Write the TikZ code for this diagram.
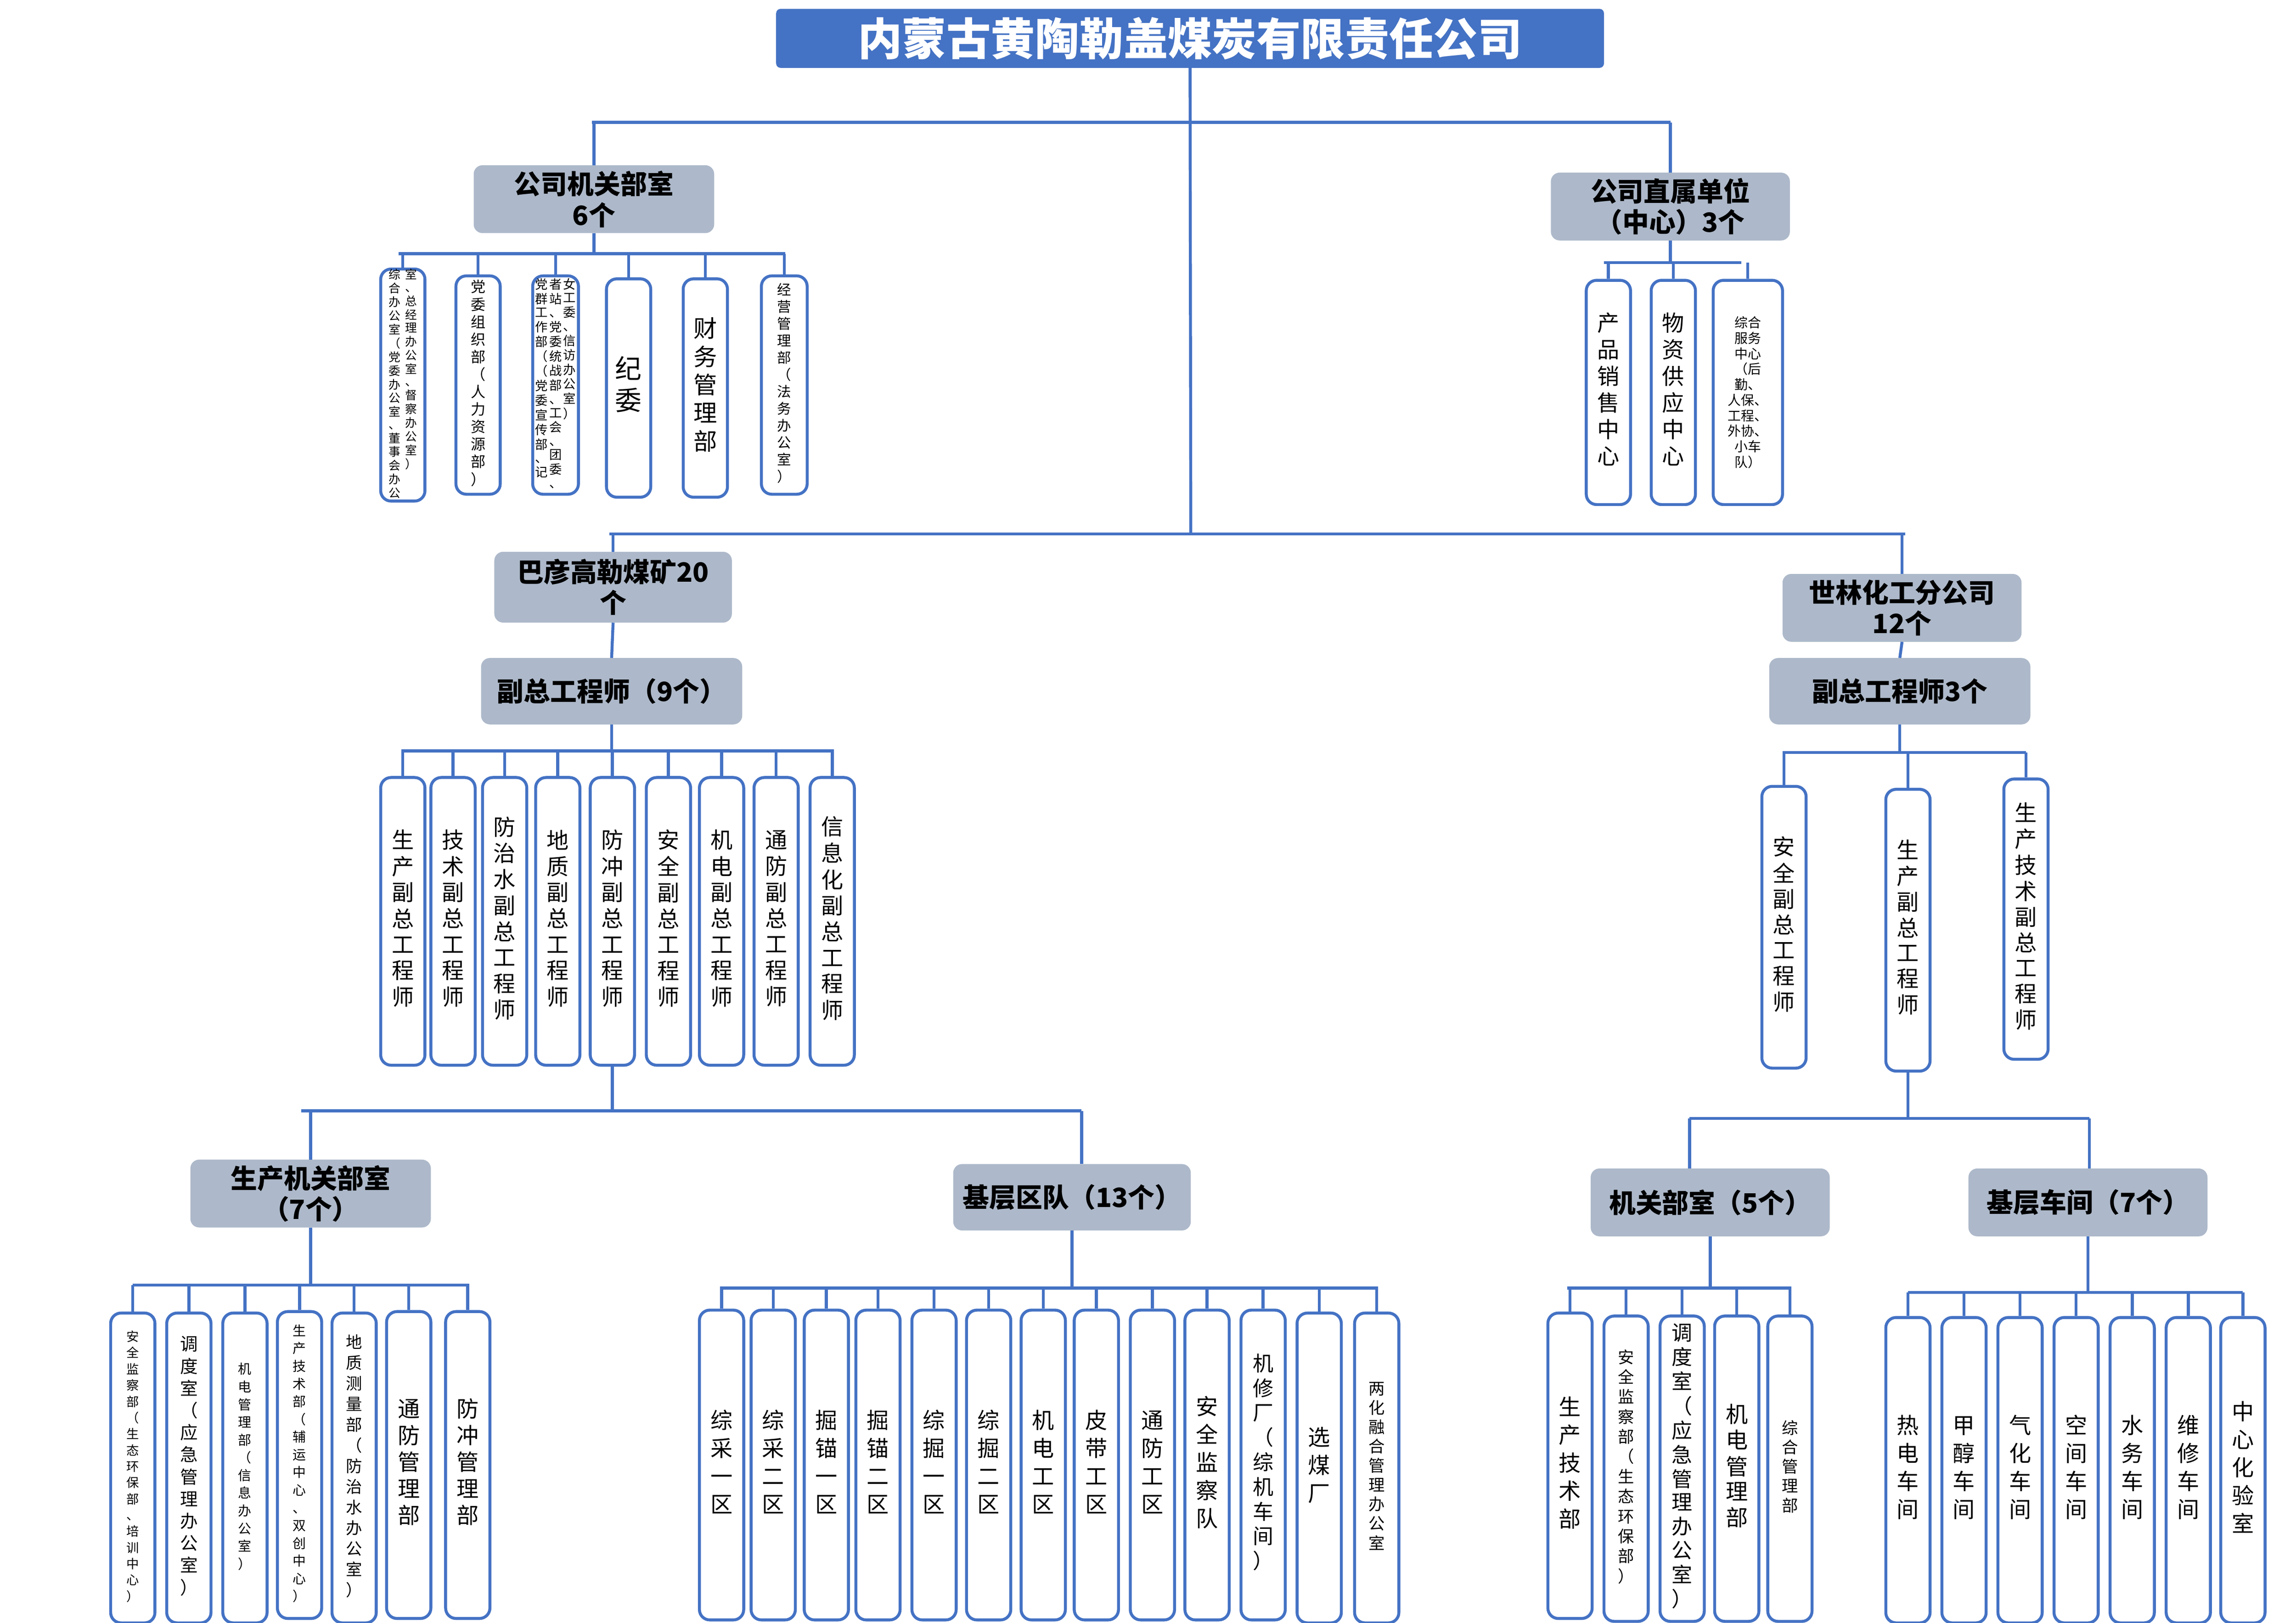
\documentclass[tikz,border=0pt]{standalone}
\usepackage{fontspec}
\setmainfont{Noto Sans CJK SC}
\definecolor{bl}{HTML}{4472C4}
\definecolor{gr}{HTML}{ADB9CA}
\makeatletter
\def\vt#1{\vt@b#1\vt@end}
\def\vt@b#1{#1\vt@a}
\def\vt@a#1{\ifx#1\vt@end\else\\#1\expandafter\vt@a\fi}
\makeatother
\newcommand\vc[1]{\begin{tabular}[t]{@{}c@{}}\vt{#1}\end{tabular}}
\newcommand\vx[1]{\expandafter\vc\expandafter{#1}}
\tikzset{
 leafbox/.style={draw=bl,line width=2mm,rounded corners=7mm,fill=white,inner sep=0pt,align=center},
 conn/.style={draw=bl,line width=2mm},
 hbox/.style={fill=gr,rounded corners=6mm,inner sep=0pt,align=center,font=\fontsize{18mm}{21mm}\selectfont\bfseries},
}
\newcommand\lf[8]{\node[leafbox,minimum width={(#3-#2)*1mm},minimum height={(#5-#4)*1mm},font=\fontsize{#6mm}{#7mm}\selectfont] (#1) at ({(#2+#3)/2},{(#4+#5)/2}) {#8};}
\newcommand\hb[7]{\node[hbox,minimum width={(#3-#2)*1mm},minimum height={(#5-#4)*1mm}] (#1) at ({(#2+#3)/2},{(#4+#5)/2}) {#6};}
\newcommand\bus[4]{\coordinate (#1bus) at (#2,#4);\draw[conn] (#2,#4) -- (#3,#4);\draw[conn] (#1.south) -- (#1.south |- #1bus);}
\newcommand\drop[2]{\foreach \n in {#2}{\draw[conn] (\n.north) -- (\n.north |- #1bus);}}
\begin{document}
\begin{tikzpicture}[x=1mm,y=-1mm]
\useasboundingbox (0,0) rectangle (1556,1100);
% title
\node[fill=bl,rounded corners=3mm,minimum width=561mm,minimum height=40mm,inner sep=0pt,text=white,font=\fontsize{30mm}{32mm}\selectfont\bfseries] (T) at (806.5,26) {内蒙古黄陶勒盖煤炭有限责任公司};
\coordinate (H1) at (807,83);
\coordinate (H2) at (807,362);
\draw[conn] (T.south) -- (H2);
\draw[conn] (401,83) -- (1132,83);
\draw[conn] (413,362) -- (1291,362);
% level 1 headers
\hb{A}{321}{484}{112}{158}{公司机关部室\\6个}{}
\hb{B}{1051}{1213}{117}{163}{公司直属单位\\（中心）3个}{}
\draw[conn] (A.north) -- (A.north |- H1);
\draw[conn] (B.north) -- (B.north |- H1);
% A leaves
\bus{A}{270}{532}{172}
\lf{a1}{258}{288}{187}{335}{8}{8.6}{\vc{综合办公室（党委办公室、董事会办公}\hspace{3mm}\vc{室、总经理办公室、督察办公室）}}
\lf{a2}{309}{339}{187}{335}{10}{11.5}{\vc{党委组织部（人力资源部）}}
\lf{a3}{361}{392}{187}{335}{8.5}{9.2}{\vc{党群工作部（（党委宣传部、记}\hspace{1mm}\vc{者站、党委统战部、工会、团委、}\hspace{1mm}\vc{女工委、信访办公室）}}
\lf{a4}{411}{441}{189}{337}{18}{21}{\vc{纪委}}
\lf{a5}{463}{493}{189}{337}{16}{19}{\vc{财务管理部}}
\lf{a6}{516}{547}{187}{335}{9.5}{11.5}{\vc{经营管理部（法务办公室）}}
\drop{A}{a1,a2,a3,a4,a5,a6}
% B leaves
\bus{B}{1087}{1180}{178}
\lf{b1}{1075}{1105}{190}{342}{15}{18}{\vc{产品销售中心}}
\lf{b2}{1119}{1149}{190}{342}{15}{18}{\vc{物资供应中心}}
\lf{b3}{1161}{1208}{190}{342}{9}{10.5}{综合\\服务\\中心\\（后\\勤、\\人保、\\工程、\\外协、\\小车\\队）}
\drop{B}{b1,b2,b3}
% level 2
\hb{C}{335}{496}{374}{422}{巴彦高勒煤矿20\\个}{}
\hb{D}{1208}{1370}{389}{435}{世林化工分公司\\12个}{}
\draw[conn] (C.north) -- (C.north |- H2);
\draw[conn] (D.north) -- (D.north |- H2);
\hb{C2}{326}{503}{446}{491}{副总工程师（9个）}{}
\hb{D2}{1199}{1376}{446}{491}{副总工程师3个}{}
\draw[conn] (C.south) -- (C2.north);
\draw[conn] (D.south) -- (D2.north);
% C2 leaves
\bus{C2}{272}{565}{509}
\foreach \i/\a/\t in {1/258/生产副总工程师,2/292/技术副总工程师,3/327/防治水副总工程师,4/363/地质副总工程师,5/400/防冲副总工程师,6/438/安全副总工程师,7/474/机电副总工程师,8/511/通防副总工程师,9/549/信息化副总工程师}{
 \lf{c\i}{\a}{\a+30}{527}{722}{15}{17.5}{\vx{\t}}
}
\drop{C2}{c1,c2,c3,c4,c5,c6,c7,c8,c9}
% D2 leaves
\bus{D2}{1208}{1373}{510}
\lf{d1}{1194}{1224}{533}{724}{15}{17}{\vc{安全副总工程师}}
\lf{d2}{1278}{1308}{535}{726}{15}{17}{\vc{生产副总工程师}}
\lf{d3}{1358}{1388}{528}{718}{15}{17}{\vc{生产技术副总工程师}}
\drop{D2}{d1,d2,d3}
% level 3 under C
\coordinate (Ebus) at (204,753);
\draw[conn] (c5.south) -- (c5.south |- Ebus);
\draw[conn] (204,753) -- (733,753);
\hb{E}{129}{292}{786}{832}{生产机关部室\\（7个）}{}
\hb{F}{646}{807}{789}{834}{基层区队（13个）}{}
\draw[conn] (E.north) -- (E.north |- Ebus);
\draw[conn] (733,753) -- (733,789);
% level 3 under D
\coordinate (Gbus) at (1145,758);
\draw[conn] (d2.south) -- (d2.south |- Gbus);
\draw[conn] (1145,758) -- (1416,758);
\hb{G}{1078}{1240}{792}{838}{机关部室（5个）}{}
\hb{H}{1334}{1496}{792}{838}{基层车间（7个）}{}
\draw[conn] (1145,758) -- (1145,792);
\draw[conn] (1416,758) -- (1416,792);
% E leaves
\bus{E}{90}{318}{871}
\lf{e1}{75}{105}{890}{1100}{8.5}{11}{\vc{安全监察部（生态环保部、培训中心）}}
\lf{e2}{113}{143}{890}{1100}{12}{15}{\vc{调度室（应急管理办公室）}}
\lf{e3}{151}{181}{890}{1100}{9}{12}{\vc{机电管理部（信息办公室）}}
\lf{e4}{188}{218}{889}{1097}{9}{12}{\vc{生产技术部（辅运中心、双创中心）}}
\lf{e5}{225}{255}{890}{1100}{11}{14}{\vc{地质测量部（防治水办公室）}}
\lf{e6}{262}{292}{889}{1097}{15}{18}{\vc{通防管理部}}
\lf{e7}{302}{332}{889}{1097}{15}{18}{\vc{防冲管理部}}
\drop{E}{e1,e2,e3,e4,e5,e6,e7}
% F leaves
\bus{F}{488}{934}{873}
\foreach \i/\a/\t in {1/474/综采一区,2/509/综采二区,3/545/掘锚一区,4/580/掘锚二区,5/618/综掘一区,6/655/综掘二区,7/692/机电工区,8/728/皮带工区,9/766/通防工区,10/803/安全监察队}{
 \lf{f\i}{\a}{\a+30}{888}{1098}{15}{19}{\vx{\t}}
}
\lf{f11}{841}{871}{888}{1098}{14}{16.5}{\vc{机修厂（综机车间）}}
\lf{f12}{879}{909}{890}{1100}{15}{19}{\vc{选煤厂}}
\lf{f13}{918}{948}{890}{1100}{11}{13}{\vc{两化融合管理办公室}}
\drop{F}{f1,f2,f3,f4,f5,f6,f7,f8,f9,f10,f11,f12,f13}
% G leaves
\bus{G}{1062}{1214}{873}
\lf{g1}{1049}{1079}{890}{1097}{15}{19}{\vc{生产技术部}}
\lf{g2}{1087}{1117}{892}{1099}{11}{13.5}{\vc{安全监察部（生态环保部）}}
\lf{g3}{1125}{1155}{892}{1099}{14}{15.5}{\vc{调度室（应急管理办公室）}}
\lf{g4}{1162}{1192}{892}{1099}{15}{17}{\vc{机电管理部}}
\lf{g5}{1198}{1228}{892}{1099}{11}{13}{\vc{综合管理部}}
\drop{G}{g1,g2,g3,g4,g5}
% H leaves
\bus{H}{1293}{1520}{876}
\foreach \i/\a/\t in {1/1278/热电车间,2/1316/甲醇车间,3/1354/气化车间,4/1392/空间车间,5/1430/水务车间,6/1468/维修车间,7/1505/中心化验室}{
 \lf{h\i}{\a}{\a+30}{893}{1100}{15}{19}{\vx{\t}}
}
\drop{H}{h1,h2,h3,h4,h5,h6,h7}
\end{tikzpicture}
\end{document}
